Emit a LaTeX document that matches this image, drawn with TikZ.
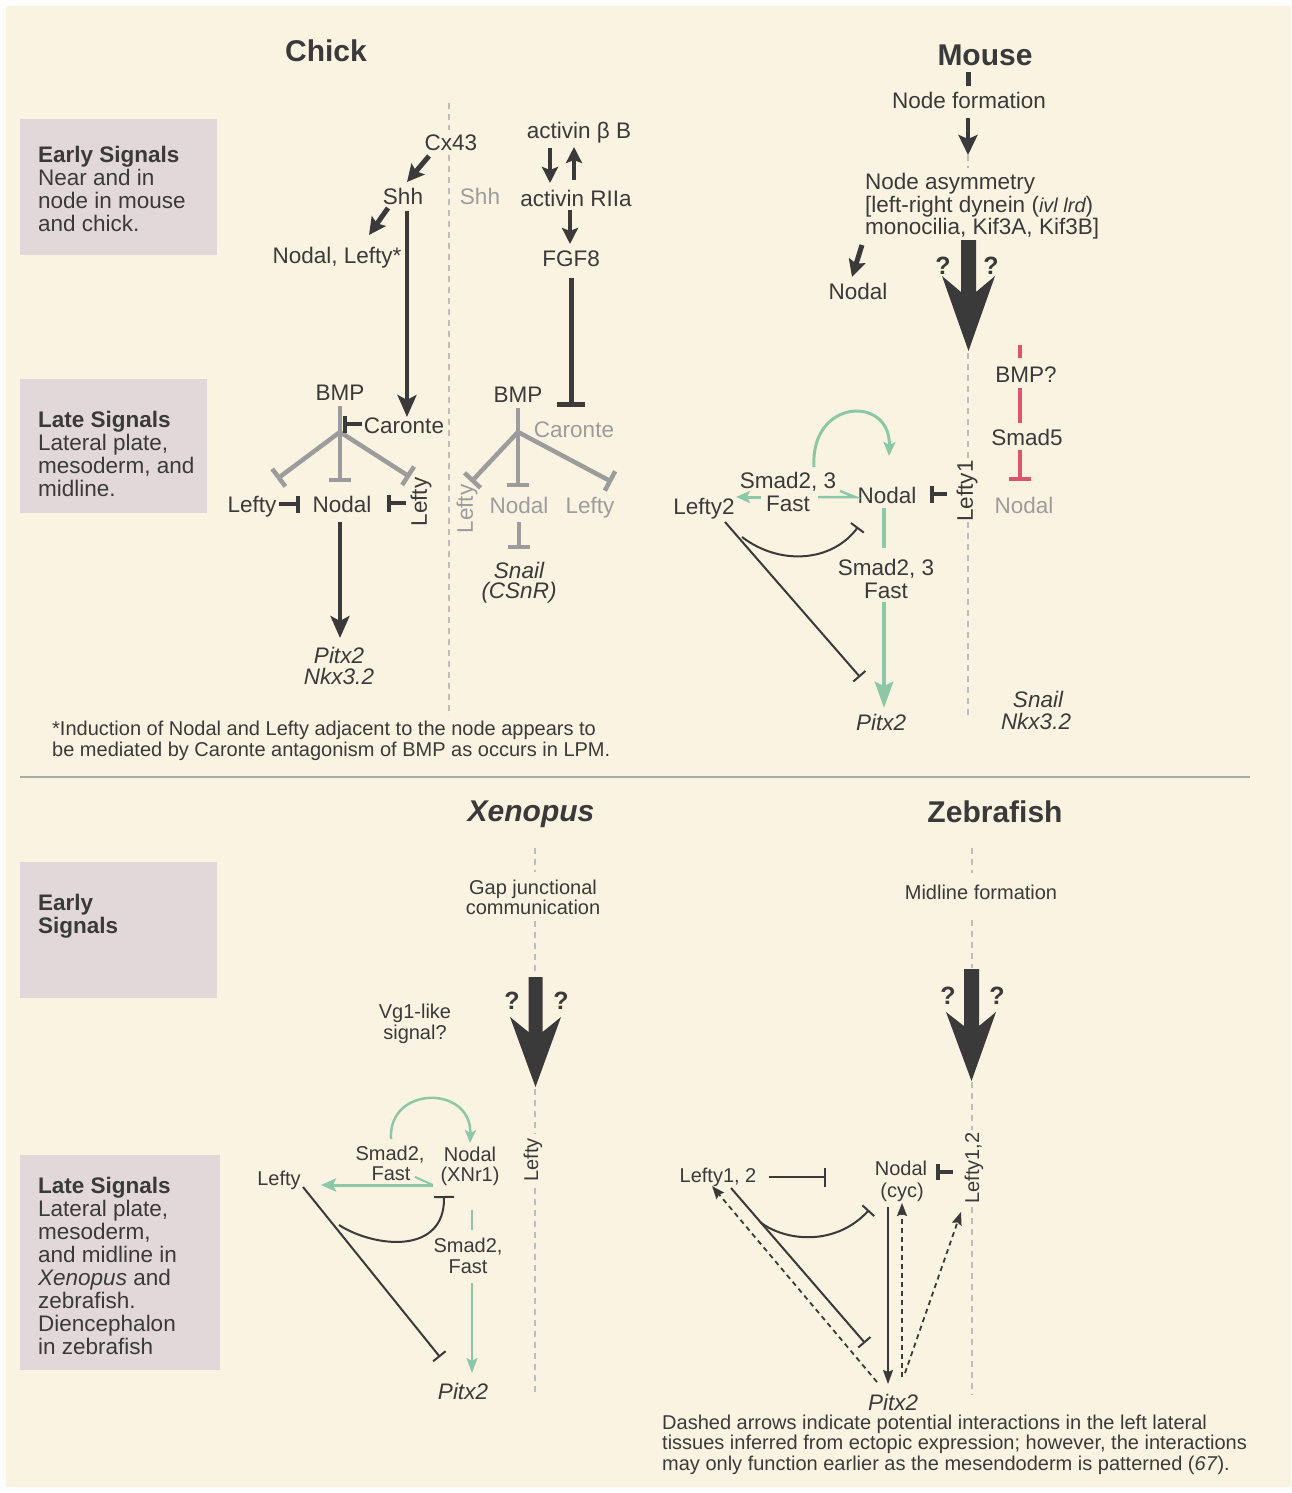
\documentclass[tikz,border=0pt]{standalone}
\usepackage{fontspec}
\setmainfont{Liberation Sans}
\usetikzlibrary{arrows.meta}
\definecolor{cream}{HTML}{FAF3E2}
\definecolor{boxc}{HTML}{E2D8DA}
\definecolor{dk}{HTML}{3A3A3A}
\definecolor{gr}{HTML}{9C9C9C}
\definecolor{grn}{HTML}{8CC7A7}
\definecolor{rd}{HTML}{D9566E}
\definecolor{dashc}{HTML}{BDBDBD}
\definecolor{rulec}{HTML}{A5ADAA}
\begin{document}
\begin{tikzpicture}[x=1pt,y=-1pt,
  t/.style={font=\fontsize{22.5}{23}\selectfont,text=dk,inner sep=0pt,text height=16pt,text depth=0pt},
  ts/.style={font=\fontsize{20}{20.5}\selectfont,text=dk,inner sep=0pt,text height=14.3pt,text depth=0pt},
  tr/.style={font=\fontsize{22.5}{23}\selectfont,text=dk,inner sep=0pt,rotate=90},
  tsr/.style={font=\fontsize{20}{20.5}\selectfont,text=dk,inner sep=0pt,rotate=90},
  ttl/.style={font=\fontsize{30}{32}\selectfont\bfseries,text=dk,inner sep=0pt,text height=21.5pt,text depth=0pt},
  qm/.style={font=\fontsize{25}{25}\selectfont\bfseries,text=dk,inner sep=0pt,text height=18pt,text depth=0pt},
  para/.style={font=\fontsize{22.5}{23}\selectfont,text=dk,inner sep=0pt,anchor=north west,align=left},
  note/.style={font=\fontsize{20}{21}\selectfont,text=dk,inner sep=0pt,anchor=north west,align=left},
  midl/.style={draw=dashc,line width=1.3pt,dash pattern=on 6pt off 5pt},
  fat/.style={draw=dk,line width=5pt,-{Stealth[length=17pt,width=17pt,inset=3pt]}},
  med/.style={draw=dk,line width=4.5pt,-{Stealth[length=16pt,width=16pt,inset=3pt]}},
  vlong/.style={draw=dk,line width=4pt,-{Stealth[length=22pt,width=19pt,inset=5pt]}},
  gline/.style={draw=gr,line width=4.5pt,-{Bar[width=22pt]}},
  dkinh/.style={draw=dk,line width=4pt,-{Bar[width=17pt]}},
  dkthin/.style={draw=dk,line width=2pt,-{Bar[width=16pt]}},
  garrow/.style={draw=grn,line width=3pt,-{Stealth[length=14pt,width=12pt,inset=3pt]}},
  zarrow/.style={draw=dk,line width=1.8pt,-{Stealth[length=14pt,width=10pt,inset=2pt]}},
  zdash/.style={draw=dk,line width=1.8pt,dash pattern=on 5pt off 4pt,-{Stealth[length=13pt,width=10pt,inset=2pt]}},
  bigarr/.style={fill=dk}
]
% background
\fill[white] (0,0) rectangle (1291,1493);
\fill[cream] (6,6) rectangle (1291,1487);
\path[use as bounding box] (0,0) rectangle (1291,1493);

% side boxes
\fill[boxc] (20,119) rectangle (217,255);
\fill[boxc] (20,379) rectangle (207,513);
\fill[boxc] (20,862) rectangle (217,998);
\fill[boxc] (20,1155) rectangle (220,1370);
\node[para] (eb1) at (38,146) {\textbf{Early Signals}\\Near and in\\node in mouse\\and chick.};
\node[para] (lb1) at (38,411) {\textbf{Late Signals}\\Lateral plate,\\mesoderm, and\\midline.};
\node[para] (eb2) at (38,894) {\textbf{Early}\\\textbf{Signals}};
\node[para] (lb2) at (38,1177) {\textbf{Late Signals}\\Lateral plate,\\mesoderm,\\and midline in\\\textit{Xenopus} and\\zebrafish.\\Diencephalon\\in zebrafish};

% divider
\draw[rulec,line width=1.5pt] (20,777) -- (1250,777);

% midlines
\draw[midl] (449,103) -- (449,130);
\draw[midl] (449,155) -- (449,716);
\draw[midl] (968,155) -- (968,168);
\draw[midl] (968,353) -- (968,460);
\draw[midl] (968,522) -- (968,720);
\draw[midl] (535,848) -- (535,872);
\draw[midl] (535,921) -- (535,976);
\draw[midl] (535,1089) -- (535,1134);
\draw[midl] (535,1188) -- (535,1395);
\draw[midl] (972,848) -- (972,873);
\draw[midl] (972,920) -- (972,968);
\draw[midl] (972,1082) -- (972,1130);
\draw[midl] (972,1207) -- (972,1395);

% ================= CHICK =================
\node[ttl] (chick) at (326,51) {Chick};
\node[t] (cx43) at (451,142) {Cx43};
\node[t] (shh) at (403,196) {Shh};
\node[t] (nodlef) at (337,255) {Nodal, Lefty*};
\node[t,text=gr] (shhg) at (480,196) {Shh};
\node[t] (actb) at (579,131) {activin β B};
\node[t] (actr) at (576,198) {activin RIIa};
\node[t] (fgf8) at (571,258) {FGF8};
\coordinate (c1a) at (429,156); \coordinate (c1b) at (407,182);
\draw[fat] (c1a) -- (c1b);
\coordinate (c2a) at (388,208); \coordinate (c2b) at (369,235);
\draw[fat] (c2a) -- (c2b);
\coordinate (c3a) at (407,211); \coordinate (c3b) at (407,417);
\draw[vlong] (c3a) -- (c3b);
\coordinate (c4a) at (550,148); \coordinate (c4b) at (550,183);
\draw[med] (c4a) -- (c4b);
\coordinate (c5a) at (574,180); \coordinate (c5b) at (574,147);
\draw[med] (c5a) -- (c5b);
\coordinate (c6a) at (570,210); \coordinate (c6b) at (570,244);
\draw[med] (c6a) -- (c6b);
\coordinate (c7a) at (571,278); \coordinate (c7b) at (571,407);
\draw[draw=dk,line width=5pt,-{Bar[width=28pt]}] (c7a) -- (c7b);

% left BMP tree
\node[t] (bmp1) at (340,392) {BMP};
\coordinate (j1) at (340,432);
\coordinate (b1t) at (340,406);
\coordinate (b1l) at (277,479);
\coordinate (b1m) at (340,482);
\coordinate (b1r) at (410,477);
\draw[gline] (b1t) -- (b1m);
\draw[gline] (j1) -- (b1l);
\draw[gline] (j1) -- (b1r);
\node[t] (car1) at (404,425) {Caronte};
\coordinate (car1w) at (362,424); \coordinate (car1t) at (343,424);
\draw[dkinh] (car1w) -- (car1t);
\node[t] (lefl) at (252,504) {Lefty};
\coordinate (lefla) at (279,504); \coordinate (leflb) at (300,504);
\draw[dkinh] (lefla) -- (leflb);
\node[t] (nodal1) at (342,504) {Nodal};
\coordinate (lefra) at (406,503); \coordinate (lefrb) at (387,503);
\draw[dkinh] (lefra) -- (lefrb);
\node[tr] (leftyr) at (421,502) {Lefty};
\coordinate (n1a) at (340,522); \coordinate (n1b) at (340,638);
\draw[vlong] (n1a) -- (n1b);
\node[t] (pitx2c) at (339,655) {\itshape Pitx2};
\node[t] (nkxc) at (339,676) {\itshape Nkx3.2};

% right BMP tree
\node[t] (bmp2) at (518,394) {BMP};
\coordinate (j2) at (518,432);
\coordinate (b2t) at (518,408);
\coordinate (b2l) at (471,482);
\coordinate (b2m) at (518,487);
\coordinate (b2r) at (612,482);
\draw[gline] (b2t) -- (b2m);
\draw[gline] (j2) -- (b2l);
\draw[gline] (j2) -- (b2r);
\node[t,text=gr] (car2) at (574,429) {Caronte};
\node[tr,text=gr] (lefty3) at (467,509) {Lefty};
\node[t,text=gr] (nodal2) at (519,505) {Nodal};
\node[t,text=gr] (lefty4) at (590,505) {Lefty};
\coordinate (n2a) at (519,522); \coordinate (n2b) at (519,549);
\draw[gline] (n2a) -- (n2b);
\node[t] (snailc) at (519,570) {\itshape Snail};
\node[t] (csnr) at (519,590) {\itshape (CSnR)};

\node[note] (foot) at (52,721) {*Induction of Nodal and Lefty adjacent to the node appears to\\be mediated by Caronte antagonism of BMP as occurs in LPM.};

% ================= MOUSE =================
\node[ttl] (mouse) at (985,55) {Mouse};
\coordinate (mb1) at (968,72); \coordinate (mb2) at (968,86);
\draw[dk,line width=5pt] (mb1) -- (mb2);
\node[t] (nodef) at (969,101) {Node formation};
\coordinate (nfa) at (968,118); \coordinate (nfb) at (968,155);
\draw[draw=dk,line width=4pt,-{Stealth[length=20pt,width=19pt,inset=4pt]}] (nfa) -- (nfb);
\node[para,font=\fontsize{22.5}{22.5}\selectfont] (nasym) at (865,173) {Node asymmetry\\{[}left-right dynein ({\fontsize{20}{20}\selectfont\itshape ivl lrd})\\monocilia, Kif3A, Kif3B]};
\coordinate (mna) at (862,245); \coordinate (mnb) at (852,277);
\draw[fat] (mna) -- (mnb);
\node[t] (nodalm) at (858,291) {Nodal};
\fill[bigarr] (961,240) -- (976,240) -- (976,292) -- (995,276) -- (968.5,351) -- (942,276) -- (961,292) -- cycle;
\node[qm] (q1) at (943,265) {?};
\node[qm] (q2) at (991,265) {?};

% red chain
\coordinate (r1a) at (1020,345); \coordinate (r1b) at (1020,358);
\draw[rd,line width=4pt] (r1a) -- (r1b);
\node[t] (bmpq) at (1026,374) {BMP?};
\coordinate (r2a) at (1020,388); \coordinate (r2b) at (1020,423);
\draw[rd,line width=4pt] (r2a) -- (r2b);
\node[t] (smad5) at (1027,437) {Smad5};
\coordinate (r3a) at (1020,450); \coordinate (r3b) at (1020,481);
\draw[rd,line width=4pt,-{Bar[width=22pt]}] (r3a) -- (r3b);
\node[t,text=gr] (nodalg) at (1024,505) {Nodal};

\node[tr] (lefty1m) at (967,491) {Lefty1};
\coordinate (l1a) at (947,494); \coordinate (l1b) at (930,494);
\draw[dkinh] (l1a) -- (l1b);
\node[t] (nodalm2) at (887,495) {Nodal};
\coordinate (arc1a) at (814,467); \coordinate (arc1b) at (889,456);
\draw[garrow] (arc1a) .. controls (810,398) and (891,395) .. (arc1b);
\node[t] (smad23a) at (788,480) {Smad2, 3};
\node[t] (fasta) at (788,503) {Fast};
\coordinate (g1a) at (761,497); \coordinate (g1b) at (736,497);
\draw[garrow] (g1a) -- (g1b);
\coordinate (hpa) at (818,497); \coordinate (hpb) at (855,497); \coordinate (hpc) at (840,491);
\draw[grn,line width=2.5pt,line join=miter] (hpa) -- (hpb) -- (hpc);
\node[t] (lefty2) at (704,506) {Lefty2};
\coordinate (gv1a) at (884,508); \coordinate (gv1b) at (884,548);
\draw[grn,line width=4.5pt] (gv1a) -- (gv1b);
\node[t] (smad23b) at (886,567) {Smad2, 3};
\node[t] (fastb) at (886,590) {Fast};
\coordinate (gv2a) at (884,602); \coordinate (gv2b) at (884,708);
\draw[draw=grn,line width=4.5pt,-{Stealth[length=26pt,width=18pt,inset=4pt]}] (gv2a) -- (gv2b);
\node[t] (pitx2m) at (881,722) {\itshape Pitx2};
\coordinate (ld1a) at (725,522); \coordinate (ld1b) at (860,677);
\draw[dkthin] (ld1a) -- (ld1b);
\coordinate (lc1a) at (742,537); \coordinate (lc1b) at (858,527);
\draw[dkthin] (lc1a) .. controls (780,566) and (832,562) .. (lc1b);
\node[t] (snailm) at (1038,699) {\itshape Snail};
\node[t] (nkxm) at (1036,721) {\itshape Nkx3.2};

% ================= XENOPUS =================
\node[ttl,font=\fontsize{30}{32}\selectfont\bfseries\itshape] (xen) at (531,811) {Xenopus};
\node[ts] (gap1) at (533,887) {Gap junctional};
\node[ts] (gap2) at (533,907) {communication};
\fill[bigarr] (528.5,977) -- (542.5,977) -- (542.5,1032) -- (561,1017) -- (535.5,1087) -- (510,1017) -- (528.5,1032) -- cycle;
\node[qm] (q3) at (512,1000) {?};
\node[qm] (q4) at (561,1000) {?};
\node[ts] (vg1) at (415,1011) {Vg1-like};
\node[ts] (vg2) at (415,1032) {signal?};
\coordinate (arc2a) at (391,1139); \coordinate (arc2b) at (470,1143);
\draw[draw=grn,line width=2.5pt,-{Stealth[length=13pt,width=11pt,inset=3pt]}] (arc2a) .. controls (388,1085) and (472,1085) .. (arc2b);
\node[ts] (smad2x) at (390,1153) {Smad2,};
\node[ts] (fastx) at (391,1173) {Fast};
\node[ts] (nodalx) at (470,1154) {Nodal};
\node[ts] (xnr1) at (470,1174) {(XNr1)};
\node[tsr] (leftyx) at (533,1160) {Lefty};
\coordinate (gxa) at (433,1185); \coordinate (gxb) at (321,1185); \coordinate (gxc) at (415,1177);
\draw[draw=grn,line width=3pt,-{Stealth[length=15pt,width=13pt,inset=3pt]}] (gxa) -- (gxb);
\draw[grn,line width=2pt] (gxc) -- (gxa);
\node[ts] (leftyxl) at (279,1178) {Lefty};
\coordinate (xca) at (339,1225); \coordinate (xcb) at (444,1196);
\draw[dkthin,-{Bar[width=20pt]}] (xca) .. controls (375,1248) and (445,1255) .. (xcb);
\coordinate (xda) at (303,1187); \coordinate (xdb) at (440,1357);
\draw[dkthin] (xda) -- (xdb);
\coordinate (xg1a) at (472,1210); \coordinate (xg1b) at (472,1230);
\draw[grn,line width=2.2pt] (xg1a) -- (xg1b);
\node[ts] (smad2x2) at (468,1245) {Smad2,};
\node[ts] (fastx2) at (468,1266) {Fast};
\coordinate (xg2a) at (472,1283); \coordinate (xg2b) at (472,1373);
\draw[draw=grn,line width=2.2pt,-{Stealth[length=15pt,width=11pt,inset=3pt]}] (xg2a) -- (xg2b);
\node[t] (pitx2x) at (463,1391) {\itshape Pitx2};

% ================= ZEBRAFISH =================
\node[ttl] (zeb) at (995,812) {Zebrafish};
\node[ts] (midf) at (981,892) {Midline formation};
\fill[bigarr] (964,969) -- (979,969) -- (979,1026) -- (996,1012) -- (971.5,1081) -- (946,1012) -- (964,1026) -- cycle;
\node[qm] (q5) at (948,995) {?};
\node[qm] (q6) at (997,995) {?};
\node[ts] (lefty12) at (718,1175) {Lefty1, 2};
\coordinate (z1a) at (769,1177); \coordinate (z1b) at (826,1177);
\draw[dkthin,-{Bar[width=19pt]}] (z1a) -- (z1b);
\node[ts] (nodalz) at (901,1168) {Nodal};
\node[ts] (cyc) at (902,1190) {(cyc)};
\coordinate (z2a) at (953,1172); \coordinate (z2b) at (936,1172);
\draw[dkinh,-{Bar[width=16pt]}] (z2a) -- (z2b);
\node[tsr] (lefty12r) at (974,1168) {Lefty1,2};
\coordinate (z3a) at (888,1207); \coordinate (z3b) at (888,1384);
\draw[zarrow] (z3a) -- (z3b);
\coordinate (z4a) at (902,1377); \coordinate (z4b) at (902,1203);
\draw[zdash] (z4a) -- (z4b);
\coordinate (z5a) at (905,1373); \coordinate (z5b) at (961,1212);
\draw[zdash] (z5a) -- (z5b);
\coordinate (z6a) at (877,1382); \coordinate (z6b) at (712,1186);
\draw[zdash] (z6a) -- (z6b);
\coordinate (z7a) at (731,1188); \coordinate (z7b) at (865,1343);
\draw[dkthin] (z7a) -- (z7b);
\coordinate (z8a) at (760,1222); \coordinate (z8b) at (869,1210);
\draw[dkthin] (z8a) .. controls (786,1242) and (836,1246) .. (z8b);
\node[t] (pitx2z) at (893,1402) {\itshape Pitx2};
\node[note,font=\fontsize{20}{20.2}\selectfont] (zn) at (662,1415) {Dashed arrows indicate potential interactions in the left lateral\\tissues inferred from ectopic expression; however, the interactions\\may only function earlier as the mesendoderm is patterned (\textit{67}).};
\end{tikzpicture}
\end{document}
